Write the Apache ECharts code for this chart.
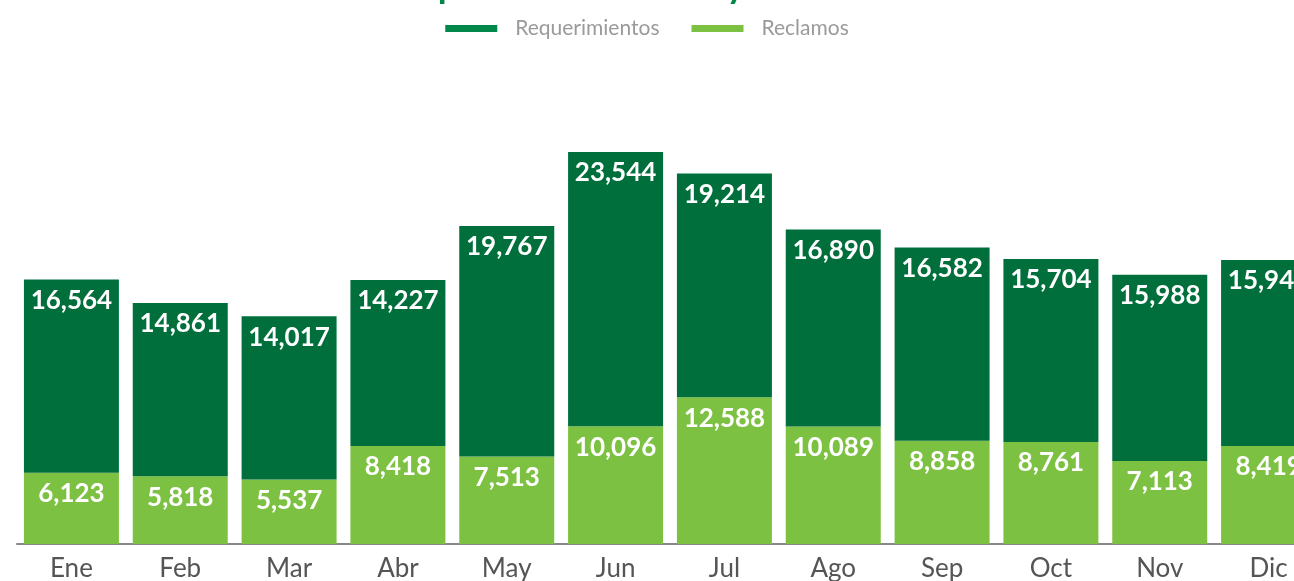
<!DOCTYPE html>
<html>
<head>
<meta charset="utf-8">
<script src="https://cdn.jsdelivr.net/npm/echarts@6/dist/echarts.min.js"></script>
<style>
  html, body { margin: 0; padding: 0; background: #fff; }
  #chart { width: 1294px; height: 581px; }
</style>
</head>
<body>
<div id="chart"></div>
<script>
// datos por mes
var meses = ['Ene', 'Feb', 'Mar', 'Abr', 'May', 'Jun', 'Jul', 'Ago', 'Sep', 'Oct', 'Nov', 'Dic'];
var requerimientos = [16564, 14861, 14017, 14227, 19767, 23544, 19214, 16890, 16582, 15704, 15988, 15945];
var reclamos = [6123, 5818, 5537, 8418, 7513, 10096, 12588, 10089, 8858, 8761, 7113, 8419];

var verdeOscuro = '#006f3c';
var verdeClaro = '#7dc142';

var chart = echarts.init(document.getElementById('chart'));

var etiqueta = {
    show: true,
    position: 'insideTop',
    distance: 8,
    color: '#fff',
    fontFamily: 'Lato',
    fontSize: 26,
    fontWeight: 'bold',
    formatter: function (p) { return p.value.toLocaleString('en-US'); }
};

var option = {
    animation: false,
    title: {
        text: 'Reportes mensuales y reclamos',
        left: 'center',
        top: -37,
        textStyle: { color: '#00874a', fontFamily: 'Lato', fontSize: 36, fontWeight: 'bold' }
    },
    legend: {
        top: 13,
        left: 'center',
        itemWidth: 52,
        itemHeight: 7,
        itemGap: 32,
        icon: 'rect',
        textStyle: { color: '#9a9a9a', fontFamily: 'Lato', fontSize: 21, padding: [0, 0, 0, 13] },
        data: [
            { name: 'Requerimientos', itemStyle: { color: '#00874a' } },
            { name: 'Reclamos', itemStyle: { color: verdeClaro } }
        ]
    },
    grid: { left: 17, right: -29, top: 100, bottom: 37, outerBoundsMode: 'none' },
    xAxis: {
        type: 'category',
        data: meses,
        axisTick: { show: false },
        axisLine: { lineStyle: { color: '#888', width: 2 } },
        axisLabel: { color: '#555', fontFamily: 'Lato', fontSize: 26, margin: 12 }
    },
    yAxis: {
        type: 'value',
        min: 0,
        max: 38100,
        show: false,
        splitLine: { show: false }
    },
    series: [
        {
            name: 'Reclamos',
            type: 'bar',
            stack: 'total',
            barWidth: 95,
            data: reclamos,
            itemStyle: { color: verdeClaro },
            label: etiqueta
        },
        {
            name: 'Requerimientos',
            type: 'bar',
            stack: 'total',
            barWidth: 95,
            data: requerimientos,
            itemStyle: { color: verdeOscuro },
            label: etiqueta
        }
    ]
};

chart.setOption(option);
</script>
</body>
</html>
